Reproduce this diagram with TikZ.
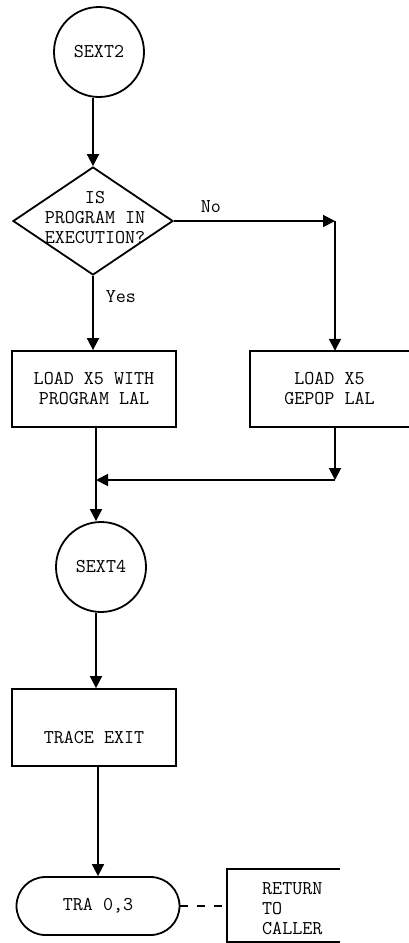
\documentclass[tikz,border=0pt]{standalone}
\usepackage{fontspec}
\usetikzlibrary{arrows.meta,shapes.geometric,shapes.misc}
\newcommand\flowfont{\ttfamily\addfontfeatures{FakeBold=1.2}\fontsize{19.5}{20}\selectfont}
\tikzset{
  ln/.style={line width=1.8pt},
  arr/.style={ln, -{Triangle[length=12pt,width=12pt]}},
  proc/.style={draw, ln, rectangle, minimum width=164pt, minimum height=76pt, inner sep=0pt, align=center},
  conn/.style={draw, ln, circle, minimum size=90pt, inner sep=0pt},
  dec/.style={draw, ln, diamond, minimum width=160pt, minimum height=108pt, inner sep=0pt},
  term/.style={draw, ln, rounded rectangle, minimum width=163pt, minimum height=58pt, inner sep=0pt},
  txt/.style={inner sep=0pt, align=center},
  lbl/.style={inner sep=0pt}
}
\begin{document}
\begin{tikzpicture}[x=1pt,y=-1pt, every node/.style={font=\flowfont}]
\useasboundingbox (0,0) rectangle (409,943);
\fill[white] (0,0) rectangle (409,943);

% shapes
\node[conn] (s2) at (99,52) {SEXT2};
\node[dec] (d) at (93,221) {};
\node[txt] (dt) at (95,218) {IS\\PROGRAM IN\\EXECUTION?};
\node[proc] (b1) at (94,389) {LOAD X5 WITH\\PROGRAM LAL};
\node[txt, minimum width=159pt, minimum height=76pt] (b2) at (329.5,389) {LOAD X5\\GEPOP LAL};
\draw[ln] (b2.north east) -- (b2.north west) -- (b2.south west) -- (b2.south east);
\node[conn] (s4) at (101,567) {SEXT4};
\node[proc, minimum height=77pt, text height=32pt, text depth=0pt] (te) at (94,727.5) {TRACE EXIT};
\node[term] (tra) at (98,906) {TRA 0,3};
\node[txt, anchor=west, align=left] (rt) at (262,909) {RETURN\\TO\\CALLER};
\coordinate (bt) at (227,869);
\coordinate (bb) at (227,942);
\draw[ln] (340,869) -- (bt) -- (bb) -- (340,942);

% junction points
\coordinate (nc) at (335,221);
\coordinate (jr) at (335,480);
\coordinate (jl) at (96,480);

% connectors
\draw[arr] (s2.south -| d.north) -- (d.north);
\draw[arr] (d.east) -- (nc) node[lbl, pos=0.23, above=7pt] {No};
\draw[arr] (nc) -- (nc |- b2.north);
\draw[arr] (d.south) -- (d.south |- b1.north) node[lbl, pos=0.28, anchor=west, xshift=12pt] {Yes};
\draw[arr] (nc |- b2.south) -- (jr);
\draw[arr] (jr) -- (jl);
\draw[arr] (b1.south -| jl) -- (jl |- s4.north);
\draw[arr] (s4.south -| jl) -- (jl |- te.north);
\draw[arr] (te.south -| tra.north) -- (tra.north);
\draw[ln, dash pattern=on 8pt off 9pt] (tra.east) -- (tra.east -| bt);
\end{tikzpicture}
\end{document}
